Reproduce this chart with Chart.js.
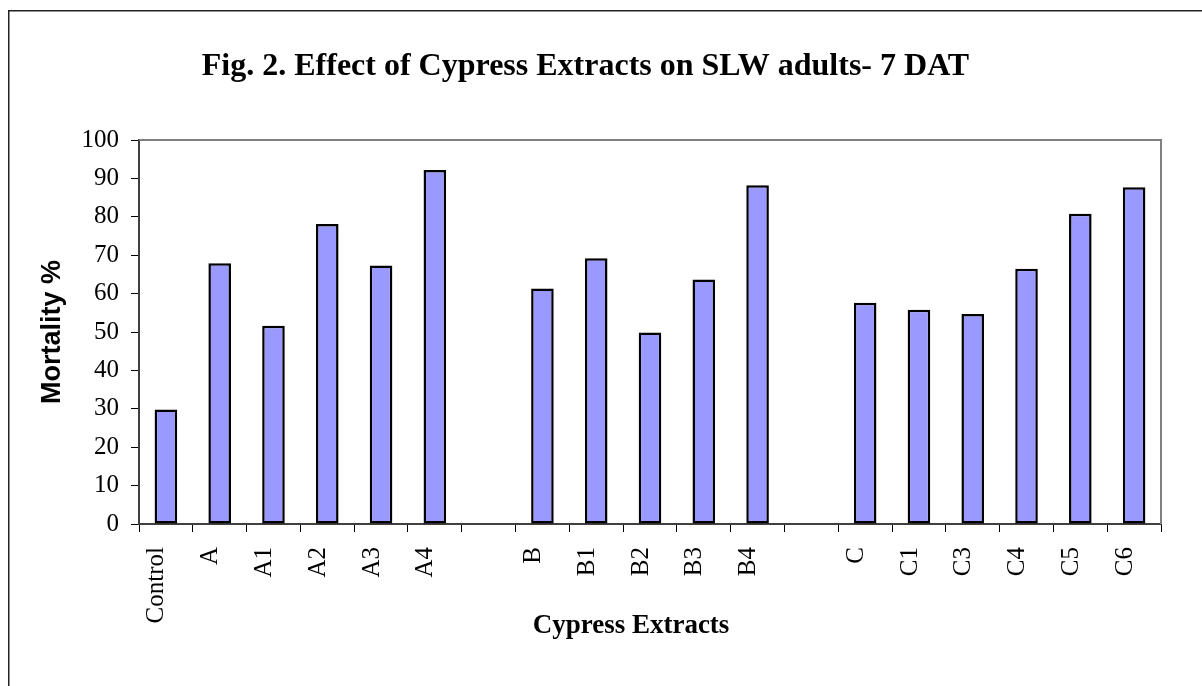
<!DOCTYPE html>
<html>
<head>
<meta charset="utf-8">
<script src="https://cdn.jsdelivr.net/npm/chart.js@4/dist/chart.umd.min.js"></script>
<style>
html,body{margin:0;padding:0;background:#fff;}
#wrap{position:relative;width:1202px;height:686px;}
</style>
</head>
<body>
<div id="wrap"><canvas id="c" width="1202" height="686"></canvas></div>
<script>
const chartTitle = 'Fig. 2. Effect of Cypress Extracts on SLW adults- 7 DAT';
const xAxisTitle = 'Cypress Extracts';
const yAxisTitle = 'Mortality %';
const categories = ['Control','A','A1','A2','A3','A4','','B','B1','B2','B3','B4','','C','C1','C3','C4','C5','C6'];
const mortality = [29.8,67.9,51.6,78.1,67.3,92.2,null,61.3,69.2,49.9,63.7,88.2,null,57.6,55.8,54.7,66.5,80.8,87.7];
const yMin = 0, yMax = 100, yStep = 10;

const serif = '"Liberation Serif", "Times New Roman", serif';
const sans = '"Liberation Sans", Arial, sans-serif';

const decor = {
  id: 'decor',
  beforeDraw(chart) {
    const ctx = chart.ctx;
    ctx.save();
    ctx.fillStyle = '#fff';
    ctx.fillRect(0, 0, chart.width, chart.height);
    ctx.strokeStyle = '#222';
    ctx.lineWidth = 1.5;
    ctx.beginPath();
    ctx.moveTo(8.75, chart.height);
    ctx.lineTo(8.75, 10.75);
    ctx.lineTo(chart.width, 10.75);
    ctx.stroke();
    ctx.restore();
  },
  beforeDatasetsDraw(chart) {
    const ctx = chart.ctx, a = chart.chartArea;
    ctx.save();
    ctx.strokeStyle = '#808080';
    ctx.lineWidth = 2;
    ctx.beginPath();
    ctx.moveTo(a.left, a.top);
    ctx.lineTo(a.right, a.top);
    ctx.lineTo(a.right, a.bottom);
    ctx.stroke();
    ctx.restore();
  },
  afterDraw(chart) {
    const ctx = chart.ctx;
    ctx.save();
    ctx.fillStyle = '#000';
    ctx.font = 'bold 27px ' + serif;
    ctx.textAlign = 'center';
    ctx.textBaseline = 'alphabetic';
    ctx.fillText(xAxisTitle, 631, 633);
    ctx.restore();
  }
};

new Chart(document.getElementById('c'), {
  type: 'bar',
  data: {
    labels: categories,
    datasets: [{
      data: mortality,
      backgroundColor: '#9999FF',
      borderColor: '#000',
      borderWidth: 2.5,
      borderSkipped: false,
      categoryPercentage: 1,
      barPercentage: 0.42
    }]
  },
  options: {
    responsive: false,
    animation: false,
    devicePixelRatio: 1,
    layout: { padding: { left: 10, right: 41, top: 0, bottom: 0 } },
    plugins: {
      legend: { display: false },
      tooltip: { enabled: false },
      title: {
        display: true,
        text: chartTitle,
        color: '#000',
        font: { family: serif, size: 32, weight: 'bold' },
        padding: { top: 48, bottom: 53.6 }
      }
    },
    scales: {
      x: {
        afterFit(scale) { scale.height = 162; },
        grid: { display: true, offset: true, drawOnChartArea: false, drawTicks: true, tickLength: 8, color: '#000', lineWidth: 1 },
        border: { display: true, color: '#404040', width: 2 },
        ticks: {
          autoSkip: false, maxRotation: 90, minRotation: 90,
          padding: 15, labelOffset: -9,
          color: '#000',
          font: { family: serif, size: 25 }
        }
      },
      y: {
        min: yMin, max: yMax,
        afterFit(scale) { scale.width = 129; },
        grid: { display: true, drawOnChartArea: false, drawTicks: true, tickLength: 8, color: '#000', lineWidth: 1 },
        border: { display: true, color: '#404040', width: 2 },
        ticks: { stepSize: yStep, padding: 12, color: '#000', font: { family: serif, size: 25 } },
        title: {
          display: true, text: yAxisTitle, color: '#000',
          font: { family: sans, size: 27, weight: 'bold' },
          padding: { top: 26, bottom: 0 }
        }
      }
    }
  },
  plugins: [decor]
});
</script>
</body>
</html>
